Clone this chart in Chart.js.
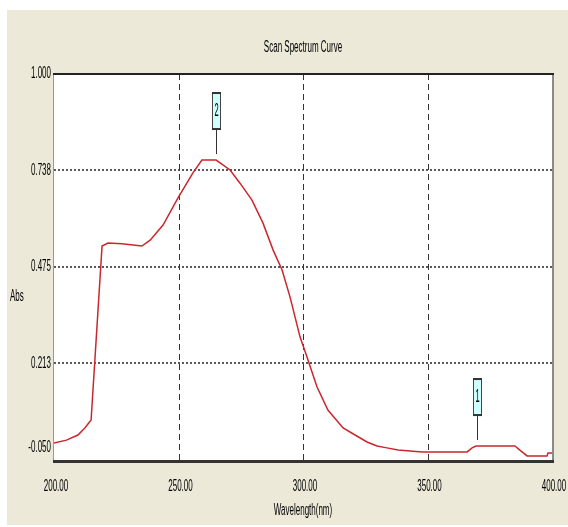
<!DOCTYPE html>
<html><head><meta charset="utf-8">
<script src="https://cdn.jsdelivr.net/npm/chart.js@4/dist/chart.umd.min.js"></script>
<style>html,body{margin:0;padding:0;background:#fff;}#wrap{position:absolute;left:0;top:0;width:568px;height:527px;}</style>
</head><body><div id="wrap"><canvas id="c" width="568" height="527"></canvas></div>
<script>
const chartTitle = 'Scan Spectrum Curve';
const xTitle = 'Wavelength(nm)';
const yTitle = 'Abs';
const wavelengths = [200, 205, 209.6, 212.4, 214.9, 219.3, 221.7, 227.3, 235.3, 238.6, 243.8, 249.8, 255.8, 259.4, 265.1, 270.7, 274.7, 279.5, 283.9, 288.0, 291.6, 294.8, 298.8, 301.6, 305.6, 310.0, 316.1, 320.9, 325.7, 329.7, 333.7, 338.2, 347.8, 365.9, 367.9, 369.5, 385.1, 387.1, 390.0, 398.0, 398.4, 400];
const absorbance = [-0.004, 0.004, 0.018, 0.037, 0.059, 0.532, 0.540, 0.538, 0.532, 0.548, 0.589, 0.663, 0.731, 0.766, 0.766, 0.739, 0.703, 0.657, 0.595, 0.521, 0.467, 0.393, 0.285, 0.230, 0.149, 0.086, 0.037, 0.018, -0.001, -0.012, -0.017, -0.023, -0.028, -0.028, -0.017, -0.012, -0.012, -0.023, -0.039, -0.039, -0.031, -0.031];
const xTickValues = [200, 250, 300, 350, 400];
const xTickLabels = ['200.00', '250.00', '300.00', '350.00', '400.00'];
const yTickValues = [-0.05, 0.213, 0.475, 0.738, 1.0];
const yTickLabels = ['-0.050', '0.213', '0.475', '0.738', '1.000'];
const markerLabels = ['1', '2'];
const markerWavelengths = [370, 265];

const FONT = "'Liberation Sans', Arial, sans-serif";

function interp(w) {
  for (let i = 0; i < wavelengths.length - 1; i++) {
    if (w >= wavelengths[i] && w <= wavelengths[i + 1]) {
      const t = (w - wavelengths[i]) / (wavelengths[i + 1] - wavelengths[i]);
      return absorbance[i] + t * (absorbance[i + 1] - absorbance[i]);
    }
  }
  return absorbance[absorbance.length - 1];
}

function narrowText(ctx, text, x, y, align) {
  ctx.save();
  ctx.translate(x, y);
  ctx.scale(0.5, 1);
  ctx.fillStyle = '#000';
  ctx.font = '16px ' + FONT;
  ctx.textAlign = align;
  ctx.textBaseline = 'middle';
  ctx.fillText(text, 0, 0);
  ctx.restore();
}

const deco = {
  id: 'deco',
  beforeDraw(chart) {
    const ctx = chart.ctx, a = chart.chartArea;
    ctx.save();
    ctx.fillStyle = '#ffffff';
    ctx.fillRect(0, 0, 568, 527);
    ctx.fillStyle = '#ECE9D8';
    ctx.fillRect(7, 10, 561, 515);
    ctx.fillStyle = '#ffffff';
    ctx.fillRect(a.left, a.top, a.right - a.left, a.bottom - a.top);
    ctx.restore();
  },
  beforeDatasetsDraw(chart) {
    const ctx = chart.ctx, a = chart.chartArea;
    const xs = chart.scales.x, ys = chart.scales.y;
    ctx.save();
    ctx.lineWidth = 1.5;
    ctx.strokeStyle = '#222';
    ctx.setLineDash([2, 2]);
    yTickValues.slice(1, -1).forEach(v => {
      const y = Math.round(ys.getPixelForValue(v));
      ctx.beginPath(); ctx.moveTo(a.left, y); ctx.lineTo(a.right, y); ctx.stroke();
    });
    ctx.lineWidth = 1;
    ctx.strokeStyle = '#333';
    ctx.setLineDash([6, 4]);
    xTickValues.slice(1, -1).forEach(v => {
      const x = Math.round(xs.getPixelForValue(v)) + 0.5;
      ctx.beginPath(); ctx.moveTo(x, a.top); ctx.lineTo(x, a.bottom); ctx.stroke();
    });
    ctx.restore();
  },
  afterDatasetsDraw(chart) {
    const ctx = chart.ctx, a = chart.chartArea;
    const xs = chart.scales.x, ys = chart.scales.y;
    ctx.save();
    // borders
    ctx.fillStyle = '#999';
    ctx.fillRect(a.left - 1, a.top, 1, a.bottom - a.top);
    ctx.fillStyle = '#8a8a8a';
    ctx.fillRect(a.right, a.top, 2, a.bottom - a.top + 2);
    ctx.fillStyle = '#222';
    ctx.fillRect(a.left - 1, a.top - 1, a.right - a.left + 3, 2);
    ctx.fillStyle = '#333';
    ctx.fillRect(a.left - 1, a.bottom, a.right - a.left + 3, 3);
    // markers
    markerWavelengths.forEach((w, i) => {
      const x = Math.round(xs.getPixelForValue(w));
      const py = ys.getPixelForValue(interp(w));
      const lineBottom = py - 6, lineTop = py - 30;
      ctx.fillStyle = '#333';
      ctx.fillRect(x, lineTop, 1, lineBottom - lineTop);
      const bx = x - 4, bw = 9, bh = 38, by = lineTop - bh;
      ctx.fillStyle = '#CFFFFF';
      ctx.fillRect(bx, by, bw, bh);
      ctx.strokeStyle = '#444';
      ctx.lineWidth = 1;
      ctx.strokeRect(bx + 0.5, by + 0.5, bw - 1, bh - 1);
      ctx.fillStyle = '#333';
      ctx.fillRect(bx, by, bw, 2);
      ctx.fillRect(bx, by + bh - 2, bw, 2);
      ctx.save();
      ctx.translate(x + 0.5, by + bh / 2);
      ctx.scale(0.75, 1.9);
      ctx.fillStyle = '#000';
      ctx.font = '10px ' + FONT;
      ctx.textAlign = 'center';
      ctx.textBaseline = 'middle';
      ctx.fillText(markerLabels[i], 0, 0);
      ctx.restore();
    });
    // texts
    const cx = (a.left + a.right) / 2;
    narrowText(ctx, chartTitle, cx, 48, 'center');
    narrowText(ctx, xTitle, cx, 511, 'center');
    narrowText(ctx, yTitle, 10, 297, 'left');
    yTickValues.forEach((v, i) => {
      let y = ys.getPixelForValue(v);
      if (i === 0) y -= 12;
      narrowText(ctx, yTickLabels[i], a.left - 3, y, 'right');
    });
    xTickValues.forEach((v, i) => {
      narrowText(ctx, xTickLabels[i], xs.getPixelForValue(v) + 2, 487, 'center');
    });
    ctx.restore();
  }
};

new Chart(document.getElementById('c'), {
  type: 'line',
  data: {
    datasets: [{
      data: wavelengths.map((w, i) => ({ x: w, y: absorbance[i] })),
      borderColor: '#C8282D',
      borderWidth: 1.5,
      pointRadius: 0,
      tension: 0,
      fill: false
    }]
  },
  options: {
    responsive: false,
    animation: false,
    devicePixelRatio: 1,
    layout: { padding: { top: 74, right: 16, left: 0, bottom: 0 } },
    plugins: { legend: { display: false }, title: { display: false }, tooltip: { enabled: false } },
    scales: {
      x: {
        type: 'linear', min: 200, max: 400,
        afterBuildTicks: s => { s.ticks = xTickValues.map(v => ({ value: v })); },
        afterFit: s => { s.height = 67; s.paddingLeft = 0; s.paddingRight = 0; },
        grid: { display: false, drawTicks: false },
        border: { display: false },
        ticks: { display: false }
      },
      y: {
        type: 'linear', min: -0.05, max: 1.0,
        afterBuildTicks: s => { s.ticks = yTickValues.map(v => ({ value: v })); },
        afterFit: s => { s.width = 54; s.paddingTop = 0; s.paddingBottom = 0; },
        grid: { display: false, drawTicks: false },
        border: { display: false },
        ticks: { display: false }
      }
    }
  },
  plugins: [deco]
});
</script>
</body></html>
